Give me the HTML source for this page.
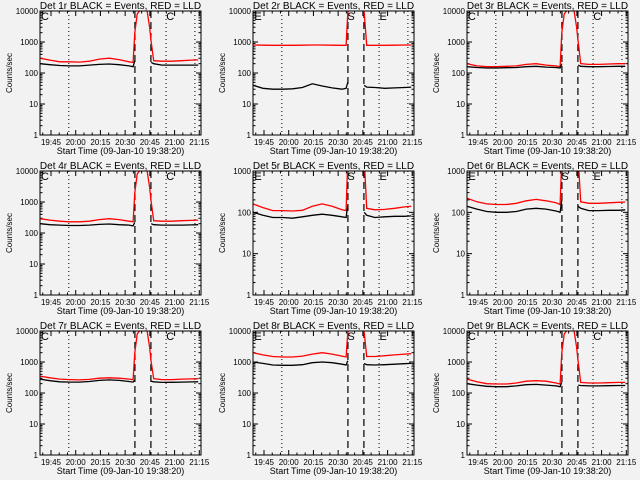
<!DOCTYPE html>
<html><head><meta charset="utf-8"><style>
html,body{margin:0;padding:0;background:#f2f2f2;}
svg{display:block;font-family:"Liberation Sans",sans-serif;}
</style></head><body>
<svg id="chart" width="640" height="480" viewBox="0 0 640 480"></svg>
<script>
const panelTitles = ["Det 1r","Det 2r","Det 3r","Det 4r","Det 5r","Det 6r","Det 7r","Det 8r","Det 9r"];
const panelTopDecade = [4,4,4,4,3,3,4,4,4];
const panelMarkers = [["C","","C"],["E","S","E"],["C","","C"],["C","","C"],["E","S","E"],["E","S","E"],["C","","C"],["E","S","E"],["C","","C"]];
const times = [0,6,12,18,24,30,36,42,48,54,56.5,57.5,59,61,63,65,66.5,67.5,69,74,80,86,92,96];
const xTickLabels = ["19:45","20:00","20:15","20:30","20:45","21:00","21:15"];
const xTickTimes = [6.67,21.67,36.67,51.67,66.67,81.67,96.67];
const dottedTimes = [17.5,76.5,94];
const dashedTimes = [57.6,67.3];
const yTickLabels = ["1","10","100","1000","10000"];
const red1 = [300,260,230,230,225,240,280,300,270,230,220,2000,8000,11000,12000,10000,3000,1000,250,240,240,250,260,265];
const blk1 = [200,185,175,170,170,180,190,195,185,170,160,250,null,null,null,null,null,220,200,180,180,180,180,180];
const red2 = [800,790,780,780,780,790,800,800,790,780,780,9000,20000,20000,20000,20000,20000,9000,780,780,780,790,800,800];
const blk2 = [40,32,30,30,31,34,45,38,33,30,32,50,null,null,null,null,null,40,35,34,32,33,34,35];
const red3 = [200,170,160,160,165,170,190,200,180,170,160,2000,8000,11000,12000,10000,3000,1000,200,190,190,195,200,200];
const blk3 = [160,150,145,145,148,150,160,165,155,150,145,200,null,null,null,null,null,180,165,160,160,162,165,165];
const red4 = [290,260,240,230,230,240,270,290,270,240,230,2000,8000,11000,12000,10000,3000,1000,250,240,240,250,255,260];
const blk4 = [200,185,180,175,175,180,190,195,185,180,170,220,null,null,null,null,null,200,185,180,180,180,182,185];
const red5 = [160,130,110,110,108,112,140,160,140,115,110,2000,5000,5000,5000,5000,5000,2000,125,115,118,125,135,140];
const blk5 = [100,85,75,75,72,78,85,90,85,78,75,150,null,null,null,null,null,100,85,75,78,80,80,82];
const red6 = [220,180,160,155,155,165,190,205,190,170,155,2000,5000,5000,5000,5000,5000,2000,180,165,165,170,175,178];
const blk6 = [140,120,105,100,100,105,120,125,120,108,100,200,null,null,null,null,null,140,125,110,110,112,112,115];
const red7 = [350,310,280,270,265,275,300,310,300,280,270,2000,8000,11000,12000,10000,3000,1000,290,270,270,280,285,290];
const blk7 = [280,250,230,225,225,235,255,265,255,235,225,260,null,null,null,null,null,240,230,220,222,225,228,230];
const red8 = [2000,1700,1500,1450,1450,1550,1800,2000,1800,1550,1450,9000,20000,20000,20000,20000,20000,9000,1500,1500,1600,1700,1800,1850];
const blk8 = [1000,900,800,780,780,820,950,1000,950,850,800,1100,null,null,null,null,null,900,820,800,820,850,880,900];
const red9 = [280,230,200,195,195,210,240,250,240,210,195,2000,8000,11000,12000,10000,3000,1000,220,210,210,215,220,220];
const blk9 = [200,180,165,160,160,170,185,190,180,170,160,220,null,null,null,null,null,180,175,170,170,172,175,175];
const redSeries = [red1,red2,red3,red4,red5,red6,red7,red8,red9];
const blackSeries = [blk1,blk2,blk3,blk4,blk5,blk6,blk7,blk8,blk9];

const NS="http://www.w3.org/2000/svg";
const svg=document.getElementById('chart');
function mk(tag,attrs,parent){const e=document.createElementNS(NS,tag);for(const k in attrs)e.setAttribute(k,attrs[k]);(parent||svg).appendChild(e);return e;}
const BL=40,BR=201,BT=11,BB=135,T0=0,T1=97.7;
for(let p=0;p<9;p++){
  const ox=Math.round((p%3)*213.33), oy=(Math.floor(p/3))*160;
  const g=mk('g',{transform:`translate(${ox},${oy})`});
  
  
  const top=panelTopDecade[p];
  const xs=t=>BL+(t-T0)/(T1-T0)*(BR-BL);
  const ys=v=>BB-Math.log10(v)/top*(BB-BT);
  const cid='clip'+p;
  const cp=mk('clipPath',{id:cid},g);mk('rect',{x:BL,y:BT,width:BR-BL,height:BB-BT},cp);
  const tt=mk('text',{x:(BL+BR)/2,y:BT-2,'text-anchor':'middle','font-size':'10',fill:'#000'},g);
  tt.textContent=panelTitles[p]+" BLACK = Events, RED = LLD";
  
  
  for(let d=0;d<=top;d++){
    const y=ys(Math.pow(10,d));
    mk('line',{x1:BL,x2:BL+5,y1:y,y2:y,stroke:'#000'},g);
    mk('line',{x1:BR,x2:BR-5,y1:y,y2:y,stroke:'#000'},g);
    const lb=mk('text',{x:BL-2,y:y+3,'text-anchor':'end','font-size':'8',fill:'#000'},g);
    lb.textContent=yTickLabels[d];
    
    
    if(d<top)for(let m=2;m<10;m++){const ym=ys(m*Math.pow(10,d));
      mk('line',{x1:BL,x2:BL+2.5,y1:ym,y2:ym,stroke:'#000'},g);
      mk('line',{x1:BR,x2:BR-2.5,y1:ym,y2:ym,stroke:'#000'},g);}
  }
  const yl=mk('text',{x:0,y:0,transform:`translate(12,${(BT+BB)/2}) rotate(-90)`,'text-anchor':'middle','font-size':'8',fill:'#000'},g);
  yl.textContent="Counts/sec";
  
  
  xTickTimes.forEach((t,i)=>{const x=xs(t);
    mk('line',{x1:x,x2:x,y1:BB,y2:BB-5,stroke:'#000'},g);
    mk('line',{x1:x,x2:x,y1:BT,y2:BT+5,stroke:'#000'},g);
    for(let m=1;m<3;m++){const xm=xs(t-m*5); if(xm>BL){mk('line',{x1:xm,x2:xm,y1:BB,y2:BB-2.5,stroke:'#000'},g);mk('line',{x1:xm,x2:xm,y1:BT,y2:BT+2.5,stroke:'#000'},g);}}
    const lb=mk('text',{x:x,y:BB+10,'text-anchor':'middle','font-size':'8',fill:'#000'},g);
    lb.textContent=xTickLabels[i];
    
    
  });
  const xl=mk('text',{x:(BL+BR)/2,y:BB+19,'text-anchor':'middle','font-size':'9',fill:'#000'},g);
  xl.textContent="Start Time (09-Jan-10 19:38:20)";
  
  
  dottedTimes.forEach(t=>{const l=mk('line',{x1:xs(t),x2:xs(t),y1:BT,y2:BB,stroke:'#000','stroke-dasharray':'1,3'},g);
    });
  dashedTimes.forEach(t=>{const l=mk('line',{x1:xs(t),x2:xs(t),y1:BT,y2:BB,stroke:'#000','stroke-dasharray':'7,4','stroke-width':'1.2'},g);
    });
  const mkX=[BL+5,xs(59.5),xs(79)];
  panelMarkers[p].forEach((s,i)=>{if(!s)return;
    const m=mk('text',{x:mkX[i],y:BT+9,'text-anchor':'middle','font-size':'11',fill:'#000'},g);
    m.textContent=s;
    
    });
  function path(arr){let d='',pen=false;
    arr.forEach((v,i)=>{if(v==null){pen=false;return;}d+=(pen?'L':'M')+xs(times[i]).toFixed(1)+','+ys(v).toFixed(1);pen=true;});return d;}
  const rp=mk('path',{d:path(redSeries[p]),fill:'none',stroke:'#ff0000','stroke-width':'1.3','clip-path':`url(#${cid})`},g);
  
  const bp=mk('path',{d:path(blackSeries[p]),fill:'none',stroke:'#000','stroke-width':'1.3','clip-path':`url(#${cid})`},g);
  
  const bx=mk('rect',{x:BL,y:BT,width:BR-BL,height:BB-BT,fill:'none',stroke:'#000'},g);
  
}
</script>
</body></html>
